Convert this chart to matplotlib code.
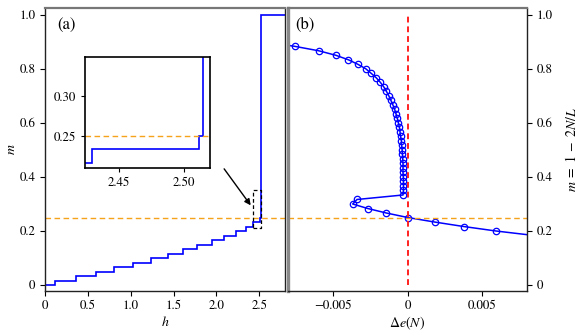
import matplotlib
matplotlib.use("Agg")
import matplotlib.pyplot as plt
import numpy as np
from matplotlib.ticker import FuncFormatter

plt.rcParams['font.family'] = 'serif'
plt.rcParams['font.serif'] = ['STIXGeneral', 'Liberation Serif', 'DejaVu Serif']
plt.rcParams['mathtext.fontset'] = 'stix'
plt.rcParams['axes.unicode_minus'] = True

# ---- panel (a): magnetization steps m(h) ----
h_edges = [0.0, 0.12, 0.36, 0.59, 0.81, 1.03, 1.235, 1.43, 1.605, 1.775,
           1.945, 2.09, 2.225, 2.34, 2.429, 2.5115, 2.5145, 2.8]
m_levels = [0.0, 0.0167, 0.0333, 0.05, 0.0667, 0.0833, 0.1, 0.1167, 0.1333,
            0.15, 0.1667, 0.1833, 0.2, 0.2167, 0.2333, 0.25, 1.0]

# ---- panel (b): m vs Delta e(N) ----
de_b = [-0.0096, -0.00756, -0.00594, -0.00479, -0.00395, -0.00332, -0.00279,
        -0.00243, -0.00209, -0.00182, -0.00159, -0.00141, -0.00125, -0.00111,
        -0.00098, -0.00086, -0.00077, -0.00068, -0.00061, -0.00054, -0.00050,
        -0.00046, -0.00041, -0.00039, -0.00036, -0.00034, -0.00032, -0.00030,
        -0.00030, -0.00030, -0.00028, -0.00027, -0.00027, -0.00027, -0.00030,
        -0.00338, -0.00367, -0.00266, -0.00142, 0.00002, 0.00181, 0.00376,
        0.00594, 0.0085]
m_b = [0.9, 0.8833, 0.8667, 0.85, 0.8333, 0.8167, 0.8, 0.7833, 0.7667, 0.75,
       0.7333, 0.7167, 0.7, 0.6833, 0.6667, 0.65, 0.6333, 0.6167, 0.6, 0.5833,
       0.5667, 0.55, 0.5333, 0.5167, 0.5, 0.4833, 0.4667, 0.45, 0.4333, 0.4167,
       0.4, 0.3833, 0.3667, 0.35, 0.3333, 0.3167, 0.3, 0.2833, 0.2667, 0.25,
       0.2333, 0.2167, 0.2, 0.1833]

m_ref = 0.25
inset_xlim = (2.424, 2.52)
inset_ylim = (0.21, 0.35)

W, H = 581, 332
fig = plt.figure(figsize=(W / 100, H / 100), dpi=100)

def fr(x0, y0, x1, y1):
    return [x0 / W, 1 - y1 / H, (x1 - x0) / W, (y1 - y0) / H]

axA = fig.add_axes(fr(45, 8, 285, 290.5))
axB = fig.add_axes(fr(288, 8, 527, 290.5))

def numfmt(v, pos):
    if abs(v) < 1e-12:
        return "0"
    s = ("%g" % v)
    return s.replace("-", "\u2212")

tick_fs = 9.3
blue = '#0000ff'
orange = '#f5a31a'

# panel (a)
axA.stairs(m_levels, h_edges, baseline=None, color=blue, lw=1.2)
axA.axhline(m_ref, color=orange, ls='--', lw=1.0, dashes=(4, 2.5))
axA.set_xlim(0, 2.8)
axA.set_ylim(-0.02, 1.025)
axA.set_xticks([0, 0.5, 1.0, 1.5, 2.0, 2.5])
axA.set_xticklabels(['0', '0.5', '1.0', '1.5', '2.0', '2.5'])
axA.set_yticks([0, 0.2, 0.4, 0.6, 0.8, 1.0])
axA.set_yticklabels(['0', '0.2', '0.4', '0.6', '0.8', '1.0'])
axA.tick_params(labelsize=tick_fs, length=3.5, width=0.8)
axA.set_xlabel(r'$h$', fontsize=10, labelpad=2)
axA.set_ylabel(r'$m$', fontsize=10, labelpad=1)
axA.text(0.05, 0.94, '(a)', transform=axA.transAxes, fontsize=12,
         ha='left', va='center')
# dashed zoom box
axA.plot([inset_xlim[0], inset_xlim[1], inset_xlim[1], inset_xlim[0], inset_xlim[0]],
         [inset_ylim[0], inset_ylim[0], inset_ylim[1], inset_ylim[1], inset_ylim[0]],
         color='k', ls='--', lw=0.9, dashes=(3, 2))
axA.annotate('', xy=(2.40, 0.295), xytext=(2.09, 0.43),
             arrowprops=dict(arrowstyle='-|>', color='k', lw=1.0,
                             mutation_scale=9, shrinkA=0, shrinkB=0))

# inset
axI = fig.add_axes(fr(85, 56.7, 210, 168))
axI.stairs(m_levels, h_edges, baseline=None, color=blue, lw=1.2)
axI.axhline(m_ref, color=orange, ls='--', lw=1.0, dashes=(4, 2.5))
axI.set_xlim(*inset_xlim)
axI.set_ylim(*inset_ylim)
axI.set_xticks([2.45, 2.50])
axI.set_xticklabels(['2.45', '2.50'])
axI.set_yticks([0.25, 0.30])
axI.set_yticklabels(['0.25', '0.30'])
axI.tick_params(labelsize=tick_fs, length=3, width=0.8)
for s in axI.spines.values():
    s.set_linewidth(1.2)

# panel (b)
axB.plot(de_b, m_b, color=blue, lw=1.1, marker='o', ms=4.6, mfc='none',
         mec=blue, mew=0.9)
axB.axhline(m_ref, color=orange, ls='--', lw=1.0, dashes=(4, 2.5))
axB.plot([0, 0], [0, 1.0], color='#ff2020', ls='--', lw=1.4, dashes=(3, 2))
axB.set_xlim(-0.008, 0.008)
axB.set_ylim(-0.02, 1.025)
axB.set_xticks([-0.005, 0, 0.005])
axB.xaxis.set_major_formatter(FuncFormatter(numfmt))
axB.yaxis.tick_right()
axB.yaxis.set_label_position('right')
axB.set_yticks([0, 0.2, 0.4, 0.6, 0.8, 1.0])
axB.set_yticklabels(['0', '0.2', '0.4', '0.6', '0.8', '1.0'])
axB.tick_params(labelsize=tick_fs, length=3.5, width=0.8)
axB.set_xlabel(r'$\Delta e(N)$', fontsize=10, labelpad=2)
axB.set_ylabel(r'$m\;=\;1\;-\;2N/L$', fontsize=10, labelpad=8)
axB.text(0.03, 0.94, '(b)', transform=axB.transAxes, fontsize=12,
         ha='left', va='center')

for ax in (axA, axB):
    for s in ax.spines.values():
        s.set_linewidth(1.0)
        s.set_color('#222222')
    ax.spines['top'].set_color('#777777')
    ax.spines['top'].set_linewidth(1.6)
axB.spines['left'].set_color('#888888')
axB.spines['left'].set_linewidth(2.4)

fig.savefig('out.png', dpi=100)
